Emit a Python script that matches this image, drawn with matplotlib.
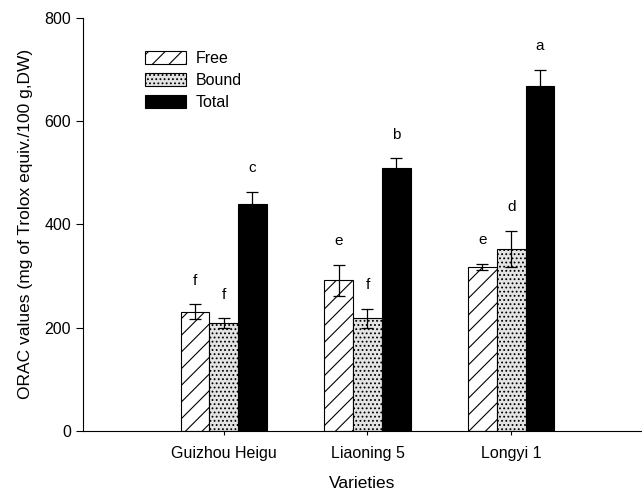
import matplotlib
matplotlib.use("Agg")
import matplotlib.pyplot as plt
import numpy as np

plt.rcParams["font.family"] = ["Liberation Sans", "DejaVu Sans"]
plt.rcParams["hatch.linewidth"] = 0.8

# data
varieties = ["Guizhou Heigu", "Liaoning 5", "Longyi 1"]
free = [231, 292, 317]
free_err = [14, 30, 6]
bound = [209, 218, 352]
bound_err = [9, 18, 35]
total = [440, 509, 669]
total_err = [23, 19, 31]
free_letters = ["f", "e", "e"]
bound_letters = ["f", "f", "d"]
total_letters = ["c", "b", "a"]

fig = plt.figure(figsize=(6.42, 4.97), dpi=100)
ax = fig.add_axes([0.129, 0.133, 0.871, 0.831])

x = np.arange(len(varieties))
w = 0.2

series = [
  (free, free_err, free_letters, -w, dict(facecolor="white", hatch="//", label="Free")),
  (bound, bound_err, bound_letters, 0, dict(facecolor="#e4e4e4", hatch="....", label="Bound")),
  (total, total_err, total_letters, w, dict(facecolor="black", label="Total")),
]

for vals, errs, letters, off, style in series:
  ax.bar(x + off, vals, width=w, edgecolor="black", linewidth=0.8, **style)
  ax.errorbar(x + off, vals, yerr=errs, fmt="none", ecolor="black",
              elinewidth=0.9, capsize=4.5, capthick=0.9)
  for xi, v, e, t in zip(x + off, vals, errs, letters):
    ax.annotate(t, (xi, v + e), xytext=(0, 12), textcoords="offset points",
                ha="center", va="bottom", fontsize=11)

ax.set_xlim(-0.98, 2.91)
ax.set_ylim(0, 800)
ax.set_yticks([0, 200, 400, 600, 800])
ax.set_xticks(x)
ax.set_xticklabels(varieties)
ax.tick_params(axis="x", length=3, labelsize=11.5, pad=8)
ax.tick_params(axis="y", length=5, labelsize=11.5)
ax.spines["top"].set_visible(False)
ax.spines["right"].set_visible(False)
ax.set_xlabel("Varieties", fontsize=12.5, labelpad=11)
ax.set_ylabel("ORAC values (mg of Trolox equiv./100 g,DW)", fontsize=12.5, labelpad=8)

ax.legend(loc="upper left", bbox_to_anchor=(0.085, 0.955), frameon=False,
          fontsize=11.5, handlelength=2.6, handleheight=0.9, labelspacing=0.42,
          handletextpad=0.6)

fig.savefig("out.png", dpi=100)
